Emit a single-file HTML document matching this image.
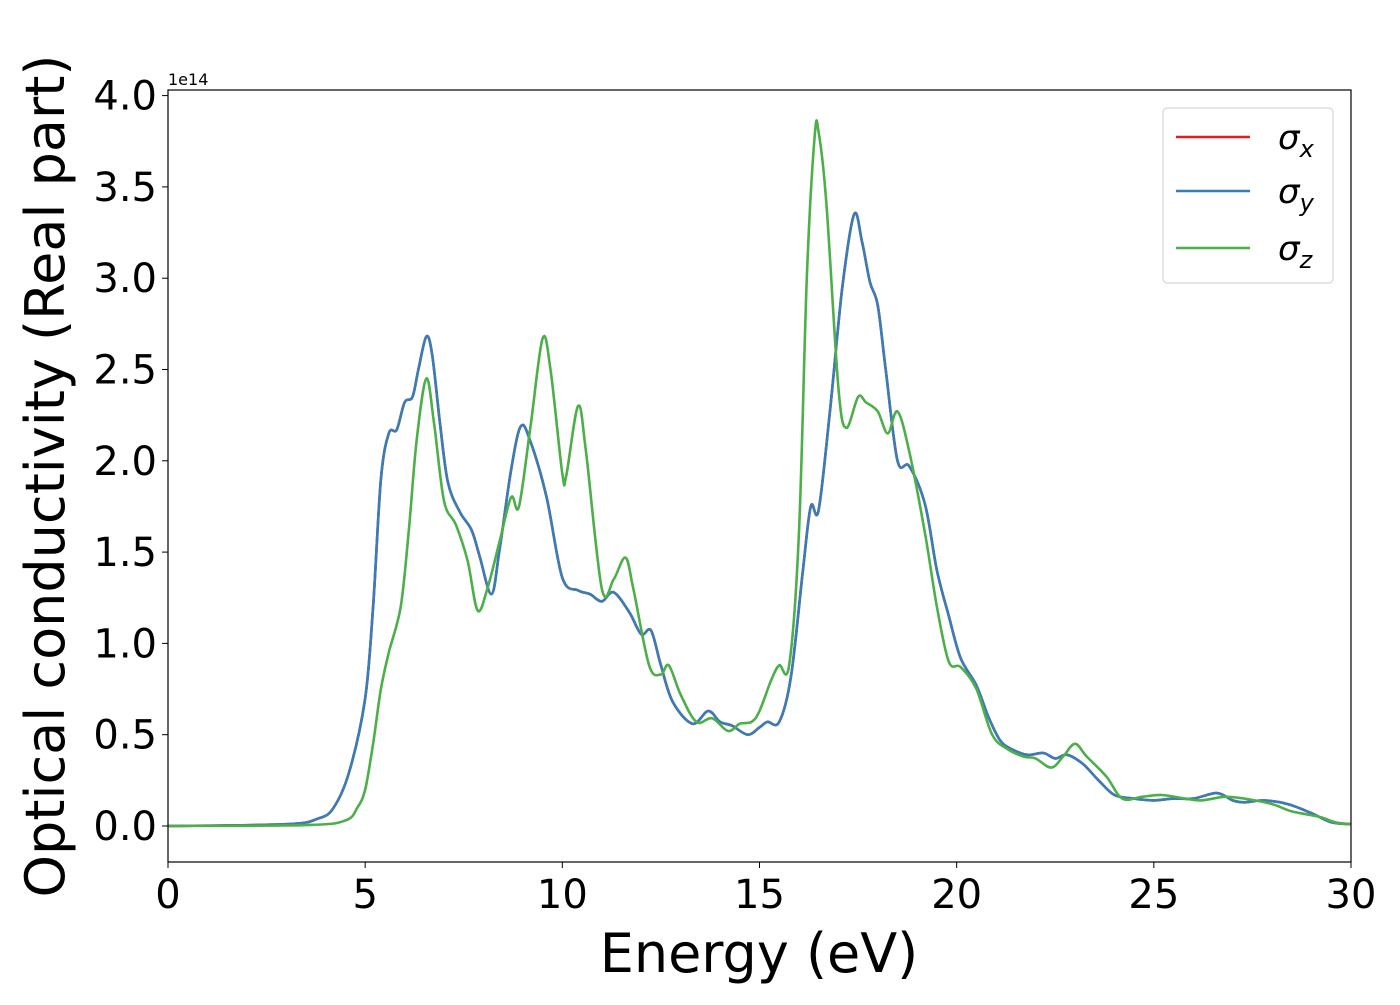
<!DOCTYPE html>
<html><head><meta charset="utf-8"><style>
body{margin:0;background:#fff;}
svg text{font-family:"DejaVu Sans","Liberation Sans",sans-serif;fill:#000;}
</style></head><body>
<svg id="chart" width="1400" height="1000" viewBox="0 0 1400 1000">
<g id="grid"></g>
<g id="series"></g>
<rect x="168" y="90" width="1183" height="772" fill="none" stroke="#000" stroke-width="1.2"/>
<g id="ticks"></g>
<text x="168" y="85" font-size="16">1e14</text>
<text x="759" y="972" font-size="54" text-anchor="middle">Energy (eV)</text>
<text transform="translate(64,476) rotate(-90)" font-size="54" text-anchor="middle">Optical conductivity (Real part)</text>
<g>
<rect x="1163" y="108" width="170" height="175" rx="4" fill="#fff" stroke="#ccc" stroke-width="1"/>
<g><line x1="1176" y1="137" x2="1250" y2="137" stroke="#e41a1c" stroke-width="2.5"/><text x="1278" y="149" font-size="34" font-style="italic">σ<tspan font-size="24" dy="8">x</tspan></text></g>
<g><line x1="1176" y1="191" x2="1250" y2="191" stroke="#377eb8" stroke-width="2.5"/><text x="1278" y="203" font-size="34" font-style="italic">σ<tspan font-size="24" dy="8">y</tspan></text></g>
<g><line x1="1176" y1="248" x2="1250" y2="248" stroke="#4daf4a" stroke-width="2.5"/><text x="1278" y="260" font-size="34" font-style="italic">σ<tspan font-size="24" dy="8">z</tspan></text></g>
</g>
</svg>
<script>
const xTicks=[0,5,10,15,20,25,30];
const yTicks=[0.0,0.5,1.0,1.5,2.0,2.5,3.0,3.5,4.0];
const energyXY=[0,3,3.8,4.2,4.6,5.0,5.2,5.4,5.6,5.8,6.0,6.2,6.35,6.55,6.7,6.9,7.1,7.4,7.7,7.9,8.2,8.4,8.7,8.95,9.2,9.6,10.0,10.4,10.7,11.0,11.3,11.7,12.0,12.25,12.5,12.8,13.3,13.7,14.0,14.3,14.7,15.0,15.2,15.5,15.8,16.1,16.3,16.5,16.8,17.1,17.4,17.6,17.8,18.0,18.2,18.5,18.8,19.2,19.5,19.8,20.1,20.5,20.8,21.1,21.4,21.8,22.2,22.5,22.8,23.2,23.6,24.0,24.5,25.0,25.5,26.0,26.6,27.0,27.3,27.8,28.4,29.0,29.5,30];
const sigmaXY=[0,0.01,0.04,0.1,0.3,0.7,1.2,1.9,2.15,2.17,2.32,2.35,2.5,2.68,2.58,2.2,1.88,1.72,1.62,1.48,1.27,1.5,1.95,2.19,2.1,1.8,1.36,1.29,1.27,1.23,1.28,1.17,1.05,1.07,0.88,0.68,0.56,0.63,0.57,0.55,0.50,0.54,0.57,0.57,0.82,1.4,1.75,1.73,2.3,2.95,3.35,3.2,2.98,2.85,2.5,2.0,1.97,1.76,1.4,1.15,0.92,0.77,0.6,0.47,0.42,0.39,0.4,0.37,0.39,0.34,0.25,0.17,0.15,0.14,0.15,0.15,0.18,0.14,0.13,0.14,0.12,0.07,0.02,0.01];
const energyZ=[0,3.5,4.5,4.8,5.0,5.2,5.4,5.6,5.9,6.1,6.3,6.55,6.75,7.0,7.3,7.6,7.85,8.1,8.4,8.7,8.9,9.2,9.5,9.7,10.0,10.1,10.4,10.6,11.0,11.3,11.6,11.8,12.2,12.5,12.7,13.0,13.4,13.8,14.2,14.5,14.8,15.0,15.3,15.5,15.75,16.0,16.2,16.4,16.5,16.7,17.0,17.2,17.5,17.7,18.0,18.25,18.5,18.8,19.2,19.5,19.8,20.1,20.5,20.9,21.3,21.7,22.0,22.4,22.7,23.0,23.3,23.8,24.2,24.7,25.2,25.8,26.2,26.8,27.3,28.0,28.5,29.2,29.6,30];
const sigmaZ=[0,0.005,0.03,0.1,0.2,0.45,0.75,0.95,1.2,1.6,2.1,2.45,2.2,1.78,1.65,1.45,1.18,1.3,1.55,1.8,1.75,2.2,2.67,2.5,1.93,1.92,2.3,2.05,1.3,1.35,1.47,1.3,0.88,0.83,0.88,0.72,0.57,0.59,0.52,0.56,0.57,0.63,0.8,0.88,0.88,1.6,3.0,3.78,3.8,3.4,2.4,2.18,2.35,2.32,2.27,2.15,2.27,2.05,1.6,1.2,0.9,0.87,0.75,0.5,0.42,0.38,0.37,0.32,0.38,0.45,0.38,0.27,0.15,0.16,0.17,0.15,0.14,0.16,0.15,0.12,0.08,0.05,0.02,0.01];
const NS="http://www.w3.org/2000/svg";
const X=v=>168+v*(1183/30);
const Y=v=>826-v*182.6;
function path(xs,ys){
  const p=xs.map((x,i)=>[X(x),Y(ys[i])]);
  let d="M"+p[0][0].toFixed(1)+","+p[0][1].toFixed(1);
  for(let i=0;i<p.length-1;i++){
    const p0=p[Math.max(i-1,0)],p1=p[i],p2=p[i+1],p3=p[Math.min(i+2,p.length-1)];
    const c1=[p1[0]+(p2[0]-p0[0])/6,p1[1]+(p2[1]-p0[1])/6];
    const c2=[p2[0]-(p3[0]-p1[0])/6,p2[1]-(p3[1]-p1[1])/6];
    d+=`C${c1[0].toFixed(1)},${c1[1].toFixed(1)} ${c2[0].toFixed(1)},${c2[1].toFixed(1)} ${p2[0].toFixed(1)},${p2[1].toFixed(1)}`;
  }
  return d;
}
const sg=document.getElementById("series");
function addLine(xs,ys,color,name){
  const el=document.createElementNS(NS,"path");
  el.setAttribute("d",path(xs,ys));
  el.setAttribute("fill","none");
  el.setAttribute("stroke",color);
  el.setAttribute("stroke-width","2.6");
  
  
  sg.appendChild(el);
}
addLine(energyXY,sigmaXY,"#e41a1c","line-sigma-x");
addLine(energyXY,sigmaXY,"#377eb8","line-sigma-y");
addLine(energyZ,sigmaZ,"#4daf4a","line-sigma-z");
const tg=document.getElementById("ticks");
xTicks.forEach(t=>{
  const l=document.createElementNS(NS,"line");
  l.setAttribute("x1",X(t));l.setAttribute("x2",X(t));l.setAttribute("y1",862);l.setAttribute("y2",868);
  l.setAttribute("stroke","#000");
  
  
  tg.appendChild(l);
  const tx=document.createElementNS(NS,"text");
  tx.setAttribute("x",X(t));tx.setAttribute("y",908);tx.setAttribute("font-size","40");tx.setAttribute("text-anchor","middle");
  tx.textContent=t;
  
  
  tg.appendChild(tx);
});
yTicks.forEach(t=>{
  const l=document.createElementNS(NS,"line");
  l.setAttribute("x1",162);l.setAttribute("x2",168);l.setAttribute("y1",Y(t));l.setAttribute("y2",Y(t));
  l.setAttribute("stroke","#000");
  
  
  tg.appendChild(l);
  const tx=document.createElementNS(NS,"text");
  tx.setAttribute("x",157);tx.setAttribute("y",Y(t)+14);tx.setAttribute("font-size","40");tx.setAttribute("text-anchor","end");
  tx.textContent=t.toFixed(1);
  
  
  tg.appendChild(tx);
});
</script>
</body></html>
